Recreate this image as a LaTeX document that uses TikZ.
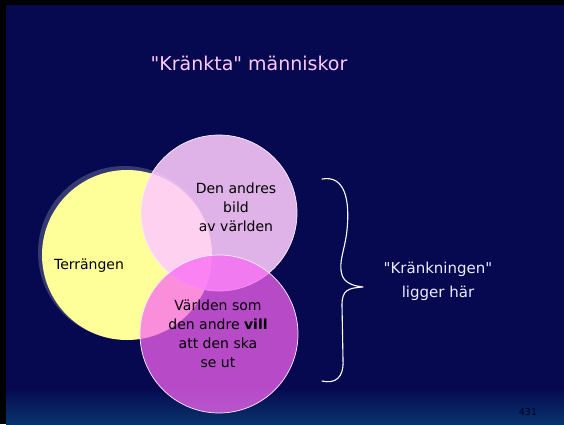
\documentclass[tikz,border=0pt]{standalone}
\usepackage{fontspec}
\setmainfont{DejaVu Sans}
\usetikzlibrary{
  calc, % For coordinate calculations
  shadings % For the bottom gradient
}

\definecolor{navy}{RGB}{6,8,80}
\definecolor{navylow}{RGB}{8,52,108}
\definecolor{titlepink}{RGB}{255,200,250}
\definecolor{terrainyellow}{RGB}{255,255,153}
\definecolor{glowblue}{RGB}{52,58,112}
\definecolor{imagepink}{RGB}{254,203,253}
\definecolor{wishpurple}{RGB}{250,101,244}
\definecolor{rimwhite}{RGB}{248,240,252}

\begin{document}
\begin{tikzpicture}[
      x=1pt, y=-1pt, % Pixel coordinates, y downwards
      circletext/.style={black, align=center, font=\fontsize{14}{19}\selectfont}, % Text in the circles
      sidetext/.style={white!92!blue, align=center, font=\fontsize{15}{24}\selectfont}, % Text beside the brace
      brace/.style={white, line width=1.1pt, line cap=round, line join=round}, % Hand-drawn brace
    ]

    % Größen
    \def\rterrain{85}
    \def\rimage{78}
    \def\rwish{79}

    \useasboundingbox (0,0) rectangle (564,424);

    % Hintergrund
    \fill[black] (0,0) rectangle (564,424);
    \fill[navy] (6,5) rectangle (564,424);
    \shade[top color=navy, bottom color=navylow] (6,388) rectangle (564,424);

    % Titel
    \node[titlepink, font=\fontsize{19}{22}\selectfont] (title) at (249,63) {\textquotedbl Kränkta\textquotedbl{} människor};

    % Kreise
    \coordinate (terrain) at (127,255);
    \coordinate (image) at (219,213);
    \coordinate (wish) at (219,334);

    \fill[glowblue] ($(terrain)+(-2.5,-2.5)$) circle (\rterrain+1.5);
    \fill[terrainyellow] (terrain) circle (\rterrain);
    \filldraw[fill=imagepink, fill opacity=0.88, draw=rimwhite, line width=0.7pt] (image) circle (\rimage);
    \filldraw[fill=wishpurple, fill opacity=0.73, draw=rimwhite, line width=0.7pt] (wish) circle (\rwish);

    % Texte in den Kreisen
    \node[circletext] (terraintext) at (89,266) {Terrängen};
    \node[circletext] (imagetext) at (236,207) {Den andres\\bild\\av världen};
    \node[circletext] (wishtext) at (218,334) {Världen som\\den andre \textbf{vill}\\att den ska\\se ut};

    % Klammer
    \coordinate (bracetop) at (322,179);
    \coordinate (bracetip) at (363,287);
    \coordinate (bracebot) at (322,381);
    \draw[brace] (bracetop) .. controls (345,175) and (350,200) .. (347,230)
      .. controls (345,250) and (338,262) .. (342,275)
      .. controls (345,284) and (355,286) .. (bracetip)
      .. controls (348,288) and (342,290) .. (342,305)
      -- (343,360) .. controls (344,378) and (335,384) .. (bracebot);

    \node[sidetext] (insult) at (438,281) {\textquotedbl Kränkningen\textquotedbl\\ligger här};

    % Seitenzahl
    \node[black!85!blue, font=\fontsize{9.5}{11}\selectfont] (pagenum) at (528,412) {431};
  \end{tikzpicture}
\end{document}
